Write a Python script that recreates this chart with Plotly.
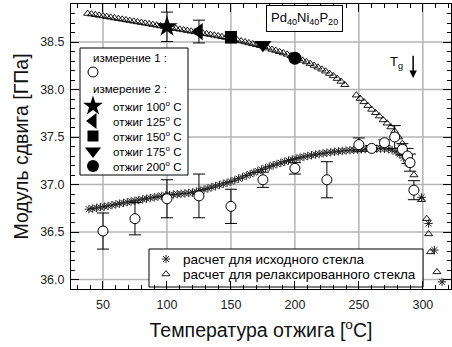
import plotly.graph_objects as go

# ---- data ----
# measurement 1 (open circles) : annealing temperature, modulus, error
m1_t = [50, 75, 100, 125, 150, 175, 200, 225, 250, 260, 270, 278, 284, 288, 290, 293]
m1_g = [36.51, 36.64, 36.85, 36.88, 36.77, 37.05, 37.17, 37.05, 37.42, 37.38, 37.44, 37.50, 37.37, 37.30, 37.23, 36.94]
m1_e = [0.19, 0.17, 0.20, 0.23, 0.18, 0.08, 0.06, 0.19, 0.07, 0.03, 0.03, 0.12, 0.06, 0.08, 0.09, 0.10]

# measurement 2 (filled symbols)
m2_t = [100, 125, 150, 175, 200]
m2_g = [38.66, 38.61, 38.55, 38.47, 38.33]
m2_e = [0.155, 0.12, 0.06, 0.0, 0.0]
m2_names = ["отжиг 100<sup>o</sup> C", "отжиг 125<sup>o</sup> C", "отжиг 150<sup>o</sup> C",
            "отжиг 175<sup>o</sup> C", "отжиг 200<sup>o</sup> C"]

# calculation for the as-quenched glass (asterisks)
calc_init_t = [39, 42, 45, 48, 51, 54, 57, 60, 63, 66, 69, 72, 75, 78, 81, 84, 87, 90, 93, 96, 99,
               102, 105, 108, 111, 114, 117, 120, 123, 126, 129, 132, 135, 138, 141, 144, 147, 150,
               153, 156, 159, 162, 165, 168, 171, 174, 177, 180, 183, 186, 189, 192, 195, 198, 201,
               204, 207, 210, 213, 216, 219, 222, 225, 228, 231, 234, 237, 240, 243, 246, 249, 252,
               255, 258, 261, 264, 267, 270, 273, 276, 279, 282, 285, 288, 299, 304.5, 309, 315]
calc_init_g = [36.740, 36.747, 36.754, 36.761, 36.768, 36.775, 36.782, 36.790, 36.798, 36.806,
               36.814, 36.822, 36.830, 36.837, 36.844, 36.851, 36.858, 36.865, 36.872, 36.879,
               36.886, 36.890, 36.894, 36.898, 36.902, 36.906, 36.910, 36.915, 36.925, 36.935,
               36.947, 36.959, 36.971, 36.983, 36.995, 37.007, 37.019, 37.031, 37.046, 37.062,
               37.078, 37.094, 37.110, 37.126, 37.142, 37.158, 37.173, 37.188, 37.202, 37.215,
               37.228, 37.240, 37.252, 37.263, 37.273, 37.283, 37.292, 37.300, 37.308, 37.315,
               37.322, 37.328, 37.334, 37.339, 37.344, 37.349, 37.353, 37.357, 37.361, 37.364,
               37.367, 37.370, 37.372, 37.374, 37.376, 37.377, 37.377, 37.376, 37.372, 37.362,
               37.345, 37.318, 37.280, 37.225, 36.865, 36.59, 36.31, 35.975]

# calculation for the relaxed glass (open triangles)
calc_rel_t = [38, 41, 44, 47, 50, 53, 56, 59, 62, 65, 68, 71, 74, 77, 80, 83, 86, 89, 92, 95, 98,
              101, 104, 107, 110, 113, 116, 119, 122, 125, 128, 131, 134, 137, 140, 143, 146, 149,
              152, 155, 158, 161, 164, 167, 170, 173, 176, 179, 182, 185, 188, 191, 194, 197, 200,
              203, 206, 209, 212, 215, 218, 221, 224, 227, 230, 233, 236, 239,
              248, 251, 254, 257, 260, 263, 266, 269, 272, 275, 278, 281, 284, 287, 290,
              293, 299, 303, 304.5, 306, 311]
calc_rel_g = [38.800, 38.794, 38.787, 38.780, 38.774, 38.767, 38.760, 38.753, 38.746, 38.739,
              38.732, 38.725, 38.718, 38.711, 38.704, 38.697, 38.690, 38.683, 38.676, 38.669,
              38.662, 38.655, 38.648, 38.641, 38.634, 38.627, 38.620, 38.613, 38.606, 38.599,
              38.592, 38.585, 38.578, 38.571, 38.563, 38.555, 38.547, 38.539, 38.530, 38.520,
              38.510, 38.500, 38.490, 38.480, 38.471, 38.461, 38.450, 38.436, 38.422, 38.410,
              38.397, 38.384, 38.370, 38.355, 38.340, 38.324, 38.307, 38.290, 38.272, 38.253,
              38.234, 38.213, 38.192, 38.168, 38.143, 38.115, 38.085, 38.050,
              37.940, 37.905, 37.870, 37.830, 37.790, 37.755, 37.720, 37.680, 37.645, 37.605,
              37.560, 37.500, 37.430, 37.330, 37.210,
              37.100, 36.840, 36.640, 36.480, 36.290, 36.080]

calc_names = ["расчет для исходного стекла", "расчет для релаксированного стекла"]
group_titles = ["измерение 1 :", "измерение 2 :"]

# axis ticks (also used for the grid)
x_ticks = [50, 100, 150, 200, 250, 300]
y_ticks = [36.0, 36.5, 37.0, 37.5, 38.0, 38.5]

FONT = "Liberation Sans, Arial, sans-serif"

X_RANGE = [25, 322]
Y_RANGE = [35.9, 38.9]

# plot-area geometry in pixels (for placing the hand-drawn legends)
W, H = 452, 347
ML, MR, MT, MB = 71, 1, 4, 58
PW, PH = W - ML - MR, H - MT - MB


def px(xp):
    return (xp - ML) / PW


def py(yp):
    return (H - MB - yp) / PH


def dx(xp):  # pixel -> x-axis value (legend key placement only)
    return X_RANGE[0] + px(xp) * (X_RANGE[1] - X_RANGE[0])


def dy(yp):  # pixel -> y-axis value (legend key placement only)
    return Y_RANGE[0] + py(yp) * (Y_RANGE[1] - Y_RANGE[0])


# ---- styles ----
GRID = dict(color="#b4b4b4", width=1.5)
init_marker = dict(symbol="asterisk-open", size=7, color="#222", line=dict(width=1, color="#222"))
rel_marker = dict(symbol="triangle-up-open", size=7, color="#000", line=dict(width=0.9, color="#000"))
m1_marker = dict(symbol="circle", size=10, color="white", line=dict(width=1, color="#000"))
m2_symbols = ["star", "triangle-left", "square", "triangle-down", "circle"]
m2_sizes = [16, 15, 12, 15, 13]

fig = go.Figure()

fig.add_trace(go.Scatter(x=calc_init_t, y=calc_init_g, mode="markers", name=calc_names[0],
                         marker=init_marker, showlegend=False))
fig.add_trace(go.Scatter(x=calc_rel_t, y=calc_rel_g, mode="markers", name=calc_names[1],
                         marker=rel_marker, showlegend=False))
fig.add_trace(go.Scatter(
    x=m1_t, y=m1_g, mode="markers", name=group_titles[0], showlegend=False,
    error_y=dict(type="data", array=m1_e, color="#000", thickness=1, width=6),
    marker=m1_marker))
for i in range(len(m2_t)):
    fig.add_trace(go.Scatter(
        x=[m2_t[i]], y=[m2_g[i]], mode="markers", name=m2_names[i], showlegend=False,
        error_y=dict(type="data", array=[m2_e[i]], color="#000", thickness=1, width=6,
                     visible=m2_e[i] > 0),
        marker=dict(symbol=m2_symbols[i], size=m2_sizes[i], color="#000", line=dict(width=0))))

# ---- grid (drawn as 'below' shapes so that the legend boxes can cover it) ----
shapes = []
for t in x_ticks:
    shapes.append(dict(type="line", xref="x", yref="y domain", x0=t, x1=t, y0=0, y1=1,
                       line=GRID, layer="below"))
for t in y_ticks:
    shapes.append(dict(type="line", xref="x domain", yref="y", x0=0, x1=1, y0=t, y1=t,
                       line=GRID, layer="below"))

# ---- hand-drawn legends ----
leg1_box = (80, 48, 188, 175)
leg1_key_x = 93
leg1_text_x = 111
leg1_title_x = 91
leg1_rows = [58, 72, 89, 106, 121, 136, 151, 166]
leg2_box = (149, 249, 423, 287)
leg2_key_x = 166
leg2_text_x = 181
leg2_rows = [259, 274]

for (x0, y0, x1, y1) in (leg1_box, leg2_box):
    shapes.append(dict(type="rect", xref="x domain", yref="y domain", x0=px(x0), x1=px(x1),
                       y0=py(y1), y1=py(y0), line=dict(color="#000", width=1),
                       fillcolor="white", layer="below"))

# legend keys
fig.add_trace(go.Scatter(x=[dx(leg1_key_x)], y=[dy(leg1_rows[1])],
                         mode="markers", marker=m1_marker, showlegend=False, hoverinfo="skip"))
for i in range(len(m2_t)):
    fig.add_trace(go.Scatter(x=[dx(leg1_key_x)], y=[dy(leg1_rows[3 + i])],
                             mode="markers", showlegend=False, hoverinfo="skip",
                             marker=dict(symbol=m2_symbols[i], size=m2_sizes[i] - 1, color="#000",
                                         line=dict(width=0))))
for mk, row in zip((init_marker, rel_marker), leg2_rows):
    fig.add_trace(go.Scatter(x=[dx(leg2_key_x)], y=[dy(row)],
                             mode="markers", marker=mk, showlegend=False, hoverinfo="skip"))

annotations = []
annotations.append(dict(x=px(leg1_title_x), y=py(leg1_rows[0]), text=group_titles[0]))
annotations.append(dict(x=px(leg1_title_x), y=py(leg1_rows[2]), text=group_titles[1]))
for i, name in enumerate(m2_names):
    annotations.append(dict(x=px(leg1_text_x), y=py(leg1_rows[3 + i]), text=name))
for a in annotations:
    a.update(xref="paper", yref="paper", xanchor="left", yanchor="middle", showarrow=False,
             font=dict(family=FONT, size=11.5, color="#000"))
for name, row in zip(calc_names, leg2_rows):
    annotations.append(dict(x=px(leg2_text_x), y=py(row), text=name, xref="paper", yref="paper",
                            xanchor="left", yanchor="middle", showarrow=False,
                            font=dict(family=FONT, size=13.5, color="#000")))

annotations.append(dict(x=207.7, y=38.746, xref="x", yref="y",
                        text="Pd<sub>40</sub>Ni<sub>40</sub>P<sub>20</sub>", showarrow=False,
                        font=dict(family=FONT, size=13, color="#000"),
                        bordercolor="#000", borderwidth=1, borderpad=4, bgcolor="white"))
annotations.append(dict(x=279.5, y=38.28, xref="x", yref="y", text="T<sub>g</sub>",
                        showarrow=False, font=dict(family=FONT, size=13, color="#000")))
annotations.append(dict(x=292.4, y=38.12, ax=292.4, ay=38.37, xref="x", yref="y",
                        axref="x", ayref="y", text="", showarrow=True,
                        arrowhead=2, arrowsize=1, arrowwidth=1.5, arrowcolor="#000"))

axis_common = dict(
    showline=True, linecolor="#000", linewidth=1, mirror="ticks",
    ticks="inside", ticklen=8, tickcolor="#000", tickwidth=1,
    showgrid=False, zeroline=False,
    tickfont=dict(family=FONT, size=12.5, color="#222"),
)

fig.update_layout(
    width=W, height=H,
    margin=dict(l=ML, r=MR, t=MT, b=MB),
    paper_bgcolor="white", plot_bgcolor="white",
    font=dict(family=FONT, color="#000"),
    showlegend=False,
    shapes=shapes,
    annotations=annotations,
    xaxis=dict(range=X_RANGE, tickmode="array", tickvals=x_ticks, ticklabelstandoff=4,
               minor=dict(ticks="inside", ticklen=4, dtick=10, tick0=0, tickcolor="#000",
                          showgrid=False),
               title=dict(text="Температура отжига [<sup>o</sup>C]",
                          font=dict(family=FONT, size=19.5, color="#111"), standoff=12),
               **axis_common),
    yaxis=dict(range=Y_RANGE, tickmode="array", tickvals=y_ticks, tickformat=".1f",
               ticklabelstandoff=3,
               minor=dict(ticks="inside", ticklen=4, dtick=0.1, tick0=36, tickcolor="#000",
                          showgrid=False),
               title=dict(text="Модуль сдвига [ГПа]",
                          font=dict(family=FONT, size=19.5, color="#111"), standoff=6),
               **axis_common),
)

fig.write_html("out.html")
